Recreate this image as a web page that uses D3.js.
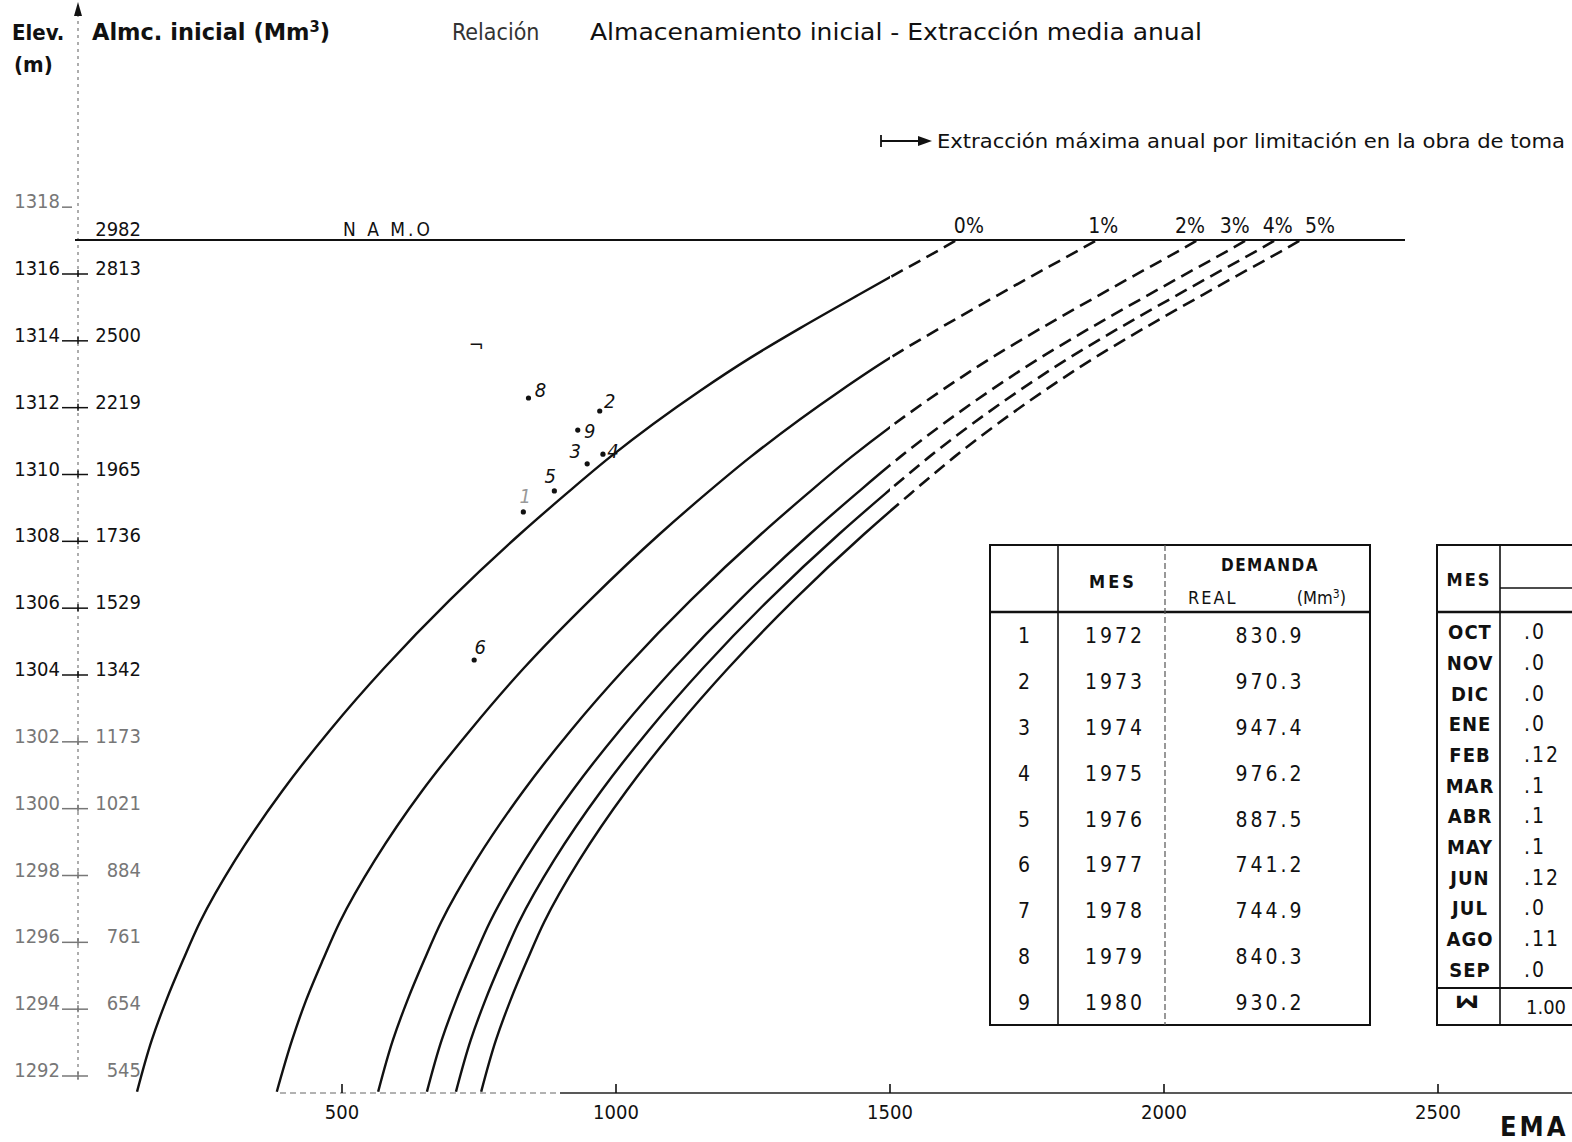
<!DOCTYPE html>
<html>
<head>
<meta charset="utf-8">
<script src="https://cdn.jsdelivr.net/npm/d3@7"></script>
<style>
  body { margin: 0; background: #fff; }
  svg { display: block; }
  text { font-family: "DejaVu Sans Condensed", "Liberation Sans Narrow", "DejaVu Sans", sans-serif; fill: #111; }
</style>
</head>
<body>
<div id="chart"></div>
<script>
// ---- data ----
// elevations (m) at which the curves were read, and the EMA (Mm3) of each curve there
const seriesNames = ["0%", "1%", "2%", "3%", "4%", "5%"];
const elevGrid = [1291.35, 1292.90, 1294.07, 1295.29, 1296.43, 1298.28, 1300.35, 1302.17, 1304.03, 1306.07, 1308.04, 1309.24, 1310.34, 1312.32, 1313.31, 1314.20, 1315.19, 1315.76, 1316.30, 1316.84];
const ema0 = [126, 153, 179, 210, 241, 305, 391, 478, 577, 697, 825, 909, 989, 1153, 1245, 1336, 1442, 1504, 1564, 1622];
const ema1 = [381, 409, 434, 465, 496, 560, 646, 734, 832, 953, 1080, 1164, 1245, 1409, 1500, 1591, 1697, 1759, 1819, 1878];
const ema2 = [566, 593, 619, 650, 681, 745, 831, 918, 1017, 1137, 1265, 1349, 1429, 1593, 1685, 1776, 1882, 1944, 2004, 2062];
const ema3 = [655, 682, 708, 739, 770, 834, 920, 1007, 1106, 1226, 1354, 1438, 1518, 1682, 1774, 1865, 1971, 2033, 2093, 2151];
const ema4 = [708, 735, 761, 792, 823, 887, 973, 1060, 1159, 1279, 1407, 1491, 1571, 1735, 1827, 1918, 2024, 2086, 2146, 2204];
const ema5 = [754, 781, 807, 838, 869, 933, 1019, 1106, 1205, 1325, 1453, 1537, 1617, 1781, 1873, 1964, 2070, 2132, 2192, 2250];

const limitEMA = 1500;           // extraccion maxima por obra de toma
const namoElev = 1316.84;
const namoStorage = "2982";

const elevTicks = [1318, 1316, 1314, 1312, 1310, 1308, 1306, 1304, 1302, 1300, 1298, 1296, 1294, 1292];
const storageLabels = ["", "2813", "2500", "2219", "1965", "1736", "1529", "1342", "1173", "1021", "884", "761", "654", "545"];
const xTicks = [500, 1000, 1500, 2000, 2500];

// table 1 + plotted points
const yearIds = [1, 2, 3, 4, 5, 6, 7, 8, 9];
const years = [1972, 1973, 1974, 1975, 1976, 1977, 1978, 1979, 1980];
const demand = [830.9, 970.3, 947.4, 976.2, 887.5, 741.2, 744.9, 840.3, 930.2];
const pointElev = [1308.70, 1311.72, 1310.14, 1310.43, 1309.33, 1304.27, 1313.49, 1312.11, 1311.15];

// table 2 (cut by the page edge)
const months = ["OCT", "NOV", "DIC", "ENE", "FEB", "MAR", "ABR", "MAY", "JUN", "JUL", "AGO", "SEP"];
const monthCoef = [".0", ".0", ".0", ".0", ".12", ".1", ".1", ".1", ".12", ".0", ".11", ".0"];
const coefTotal = "1.00";

// ---- drawing ----
const W = 1572, H = 1142;
const svg = d3.select("#chart").append("svg").attr("width", W).attr("height", H);

const x = d3.scaleLinear().domain([0, 2500]).range([68, 1438]);
const y = d3.scaleLinear().domain([1292, 1316]).range([1070, 268]);
const axisX = 78, axisY = 1093;

// clip areas: solid below the limit, dashed above it
const defs = svg.append("defs");
defs.append("clipPath").attr("id", "solidClip").append("rect")
    .attr("x", 0).attr("y", 0).attr("width", x(limitEMA)).attr("height", H);
defs.append("clipPath").attr("id", "dashClip").append("rect")
    .attr("x", x(limitEMA)).attr("y", 0).attr("width", W).attr("height", H);

// vertical axis (faint, dotted) with arrow
svg.append("line")
    .attr("x1", axisX).attr("x2", axisX).attr("y1", 14).attr("y2", 1080)
    .attr("stroke", "#777").attr("stroke-width", 1.2).attr("stroke-dasharray", "3,4");
svg.append("path")
    .attr("d", `M${axisX - 4},16 L${axisX},2 L${axisX + 4},16 Z`)
    .attr("fill", "#111");

// horizontal axis
svg.append("line")
    .attr("x1", 280).attr("x2", 560).attr("y1", axisY).attr("y2", axisY)
    .attr("stroke", "#666").attr("stroke-width", 1.2).attr("stroke-dasharray", "6,4");
svg.append("line")
    .attr("x1", 560).attr("x2", W).attr("y1", axisY).attr("y2", axisY)
    .attr("stroke", "#222").attr("stroke-width", 1.6);
const xAxis = svg.append("g");
xAxis.selectAll("line").data(xTicks).enter().append("line")
    .attr("x1", d => x(d)).attr("x2", d => x(d))
    .attr("y1", axisY).attr("y2", axisY - 9)
    .attr("stroke", "#111").attr("stroke-width", 1.6);
xAxis.selectAll("text").data(xTicks).enter().append("text")
    .attr("x", d => x(d)).attr("y", axisY + 26)
    .attr("text-anchor", "middle")
    .style("font-size", "20px")
    .text(d => d);
svg.append("text")
    .attr("x", 1500).attr("y", 1136)
    .style("font-size", "27px").style("font-weight", "bold").style("letter-spacing", "3px")
    .text("EMA");

// y tick labels: elevation + initial storage
const yTicks = svg.append("g");
elevTicks.forEach((e, i) => {
    const yy = y(e);
    const faded = e <= 1302 || e === 1318;
    const col = faded ? "#777" : "#111";
    yTicks.append("text")
        .attr("x", 60).attr("y", yy + 7)
        .attr("text-anchor", "end")
        .style("font-size", "20px").style("fill", col)
        .text(e);
    yTicks.append("line")
        .attr("x1", 62).attr("x2", e === 1318 ? 72 : 88)
        .attr("y1", yy + 6).attr("y2", yy + 6)
        .attr("stroke", col).attr("stroke-width", 1.5);
    if (storageLabels[i]) {
        yTicks.append("line")
            .attr("x1", axisX).attr("x2", axisX)
            .attr("y1", yy + 2).attr("y2", yy + 9)
            .attr("stroke", col).attr("stroke-width", 1.5);
        yTicks.append("text")
            .attr("x", 141).attr("y", yy + 7)
            .attr("text-anchor", "end")
            .style("font-size", "20px").style("fill", col)
            .text(storageLabels[i]);
    }
});

// NAMO line
svg.append("line")
    .attr("x1", 75).attr("x2", 1405)
    .attr("y1", y(namoElev)).attr("y2", y(namoElev))
    .attr("stroke", "#111").attr("stroke-width", 2);
svg.append("text")
    .attr("x", 141).attr("y", y(namoElev) - 4).attr("text-anchor", "end")
    .style("font-size", "20px").text(namoStorage);
svg.append("text")
    .attr("x", 343).attr("y", y(namoElev) - 4)
    .style("font-size", "19px").style("letter-spacing", "3px")
    .text("N A M.O");

// curves (EMA is a function of elevation, so monotone in y)
const series = [ema0, ema1, ema2, ema3, ema4, ema5].map(s => s.map((v, i) => [v, elevGrid[i]]));
const line = d3.line()
    .x(d => x(d[0]))
    .y(d => y(d[1]))
    .curve(d3.curveMonotoneY);
const curves = svg.append("g");
curves.selectAll(".solid").data(series).enter().append("path")
    .attr("class", "solid")
    .attr("d", line)
    .attr("clip-path", "url(#solidClip)")
    .attr("fill", "none").attr("stroke", "#111").attr("stroke-width", 2.4);
curves.selectAll(".dash").data(series).enter().append("path")
    .attr("class", "dash")
    .attr("d", line)
    .attr("clip-path", "url(#dashClip)")
    .attr("fill", "none").attr("stroke", "#111").attr("stroke-width", 2.6)
    .attr("stroke-dasharray", "13,7");

// percentage labels at the NAMO line
const pctShift = [12, 6, -8, -12, 2, 19];
svg.selectAll(".pct").data(seriesNames).enter().append("text")
    .attr("class", "pct")
    .attr("x", (d, i) => x(series[i][series[i].length - 1][0]) + pctShift[i])
    .attr("y", y(namoElev) - 7)
    .attr("text-anchor", "middle")
    .style("font-size", "21px")
    .text(d => d);

// observed points
const ptOffset = [[2, -9], [10, -3], [-12, -6], [10, 4], [-4, -8], [6, -6], [0, 0], [12, -1], [12, 8]];
const pts = svg.append("g");
pts.selectAll("circle").data(demand).enter().append("circle")
    .attr("cx", d => x(d))
    .attr("cy", (d, i) => y(pointElev[i]))
    .attr("r", (d, i) => i === 6 ? 0 : 2.6)
    .attr("fill", "#111");
pts.selectAll("text").data(demand).enter().append("text")
    .attr("x", (d, i) => x(d) + ptOffset[i][0])
    .attr("y", (d, i) => y(pointElev[i]) + ptOffset[i][1])
    .attr("text-anchor", "middle")
    .style("font-size", "20px").style("font-style", "italic")
    .style("fill", (d, i) => i === 0 ? "#999" : "#111")
    .text((d, i) => i === 6 ? "¬" : yearIds[i]);

// titles
svg.append("text").attr("x", 12).attr("y", 40)
    .style("font-size", "22px").style("font-weight", "bold").text("Elev.");
svg.append("text").attr("x", 14).attr("y", 72)
    .style("font-size", "22px").style("font-weight", "bold").text("(m)");
svg.append("text").attr("x", 92).attr("y", 40)
    .attr("textLength", 238).attr("lengthAdjust", "spacingAndGlyphs")
    .style("font-size", "23px").style("font-weight", "bold")
    .html("Almc. inicial (Mm<tspan dy='-8' style='font-size:15px'>3</tspan><tspan dy='8'>)</tspan>");
svg.append("text").attr("x", 452).attr("y", 40)
    .style("font-size", "23px").style("fill", "#333").text("Relación");
svg.append("text").attr("x", 590).attr("y", 40)
    .attr("textLength", 612).attr("lengthAdjust", "spacingAndGlyphs")
    .style("font-size", "23px").text("Almacenamiento inicial - Extracción media anual");

// legend for the max extraction limit
const lg = svg.append("g");
lg.append("line").attr("x1", 881).attr("x2", 928).attr("y1", 141).attr("y2", 141)
    .attr("stroke", "#111").attr("stroke-width", 1.8);
lg.append("line").attr("x1", 881).attr("x2", 881).attr("y1", 135).attr("y2", 147)
    .attr("stroke", "#111").attr("stroke-width", 1.8);
lg.append("path").attr("d", "M918,136 L932,141 L918,146 Z").attr("fill", "#111");
lg.append("text").attr("x", 937).attr("y", 148)
    .attr("textLength", 628).attr("lengthAdjust", "spacingAndGlyphs")
    .style("font-size", "20px")
    .text("Extracción máxima anual por limitación en la obra de toma");

// ---- table 1 ----
const t1 = svg.append("g");
const t1x = [990, 1058, 1165, 1370], t1top = 545, t1head = 612, t1bot = 1025;
const rowH = (t1bot - t1head) / years.length;
t1.append("rect").attr("x", t1x[0]).attr("y", t1top)
    .attr("width", t1x[3] - t1x[0]).attr("height", t1bot - t1top)
    .attr("fill", "none").attr("stroke", "#111").attr("stroke-width", 2);
t1.append("line").attr("x1", t1x[0]).attr("x2", t1x[3]).attr("y1", t1head).attr("y2", t1head)
    .attr("stroke", "#111").attr("stroke-width", 2.5);
t1.append("line").attr("x1", t1x[1]).attr("x2", t1x[1]).attr("y1", t1top).attr("y2", t1bot)
    .attr("stroke", "#111").attr("stroke-width", 1.6);
t1.append("line").attr("x1", t1x[2]).attr("x2", t1x[2]).attr("y1", t1top).attr("y2", t1bot)
    .attr("stroke", "#555").attr("stroke-width", 1.2).attr("stroke-dasharray", "6,3");
t1.append("text").attr("x", 1113).attr("y", 588).attr("text-anchor", "middle")
    .style("font-size", "18px").style("font-weight", "bold").style("letter-spacing", "3px").text("MES");
t1.append("text").attr("x", 1270).attr("y", 571).attr("text-anchor", "middle")
    .style("font-size", "17px").style("font-weight", "bold").style("letter-spacing", "1.5px").text("DEMANDA");
t1.append("text").attr("x", 1188).attr("y", 604)
    .style("font-size", "18px").style("letter-spacing", "2px").text("REAL");
t1.append("text").attr("x", 1346).attr("y", 604).attr("text-anchor", "end")
    .style("font-size", "18px")
    .html("(Mm<tspan dy='-6' style='font-size:12px'>3</tspan><tspan dy='6'>)</tspan>");
const t1rows = t1.selectAll(".row").data(years).enter().append("g")
    .attr("transform", (d, i) => `translate(0,${t1head + rowH * (i + 0.5) + 8})`);
t1rows.append("text").attr("x", 1024).attr("text-anchor", "middle")
    .style("font-size", "21px").text((d, i) => yearIds[i]);
t1rows.append("text").attr("x", 1115).attr("text-anchor", "middle")
    .style("font-size", "21px").style("letter-spacing", "3px").text(d => d);
t1rows.append("text").attr("x", 1270).attr("text-anchor", "middle")
    .style("font-size", "21px").style("letter-spacing", "3px").text((d, i) => demand[i].toFixed(1));

// ---- table 2 (runs off the page) ----
const t2 = svg.append("g");
const t2x = 1437, t2c = 1500, t2sum = 988;
t2.append("rect").attr("x", t2x).attr("y", t1top).attr("width", 200).attr("height", t1bot - t1top)
    .attr("fill", "none").attr("stroke", "#111").attr("stroke-width", 2);
t2.append("line").attr("x1", t2x).attr("x2", W).attr("y1", t1head).attr("y2", t1head)
    .attr("stroke", "#111").attr("stroke-width", 2.5);
t2.append("line").attr("x1", t2c).attr("x2", W).attr("y1", 588).attr("y2", 588)
    .attr("stroke", "#111").attr("stroke-width", 1.4);
t2.append("line").attr("x1", t2x).attr("x2", W).attr("y1", t2sum).attr("y2", t2sum)
    .attr("stroke", "#111").attr("stroke-width", 2);
t2.append("line").attr("x1", t2c).attr("x2", t2c).attr("y1", t1top).attr("y2", t1bot)
    .attr("stroke", "#111").attr("stroke-width", 1.6);
t2.append("text").attr("x", 1469).attr("y", 586).attr("text-anchor", "middle")
    .style("font-size", "18px").style("font-weight", "bold").style("letter-spacing", "2px").text("MES");
const mH = (t2sum - t1head - 8) / months.length;
const t2rows = t2.selectAll(".m").data(months).enter().append("g")
    .attr("transform", (d, i) => `translate(0,${t1head + 4 + mH * (i + 0.5) + 8})`);
t2rows.append("text").attr("x", 1470).attr("text-anchor", "middle")
    .style("font-size", "20px").style("font-weight", "bold").style("letter-spacing", "1px").text(d => d);
t2rows.append("text").attr("x", 1524)
    .style("font-size", "21px").style("letter-spacing", "2px").text((d, i) => monthCoef[i]);
t2.append("text").attr("x", 1469).attr("y", 1010).attr("text-anchor", "middle")
    .attr("transform", "rotate(-90,1469,1002)")
    .style("font-size", "27px").style("font-weight", "bold").text("Σ");
t2.append("text").attr("x", 1526).attr("y", 1014)
    .style("font-size", "20px").text(coefTotal);
</script>
</body>
</html>
